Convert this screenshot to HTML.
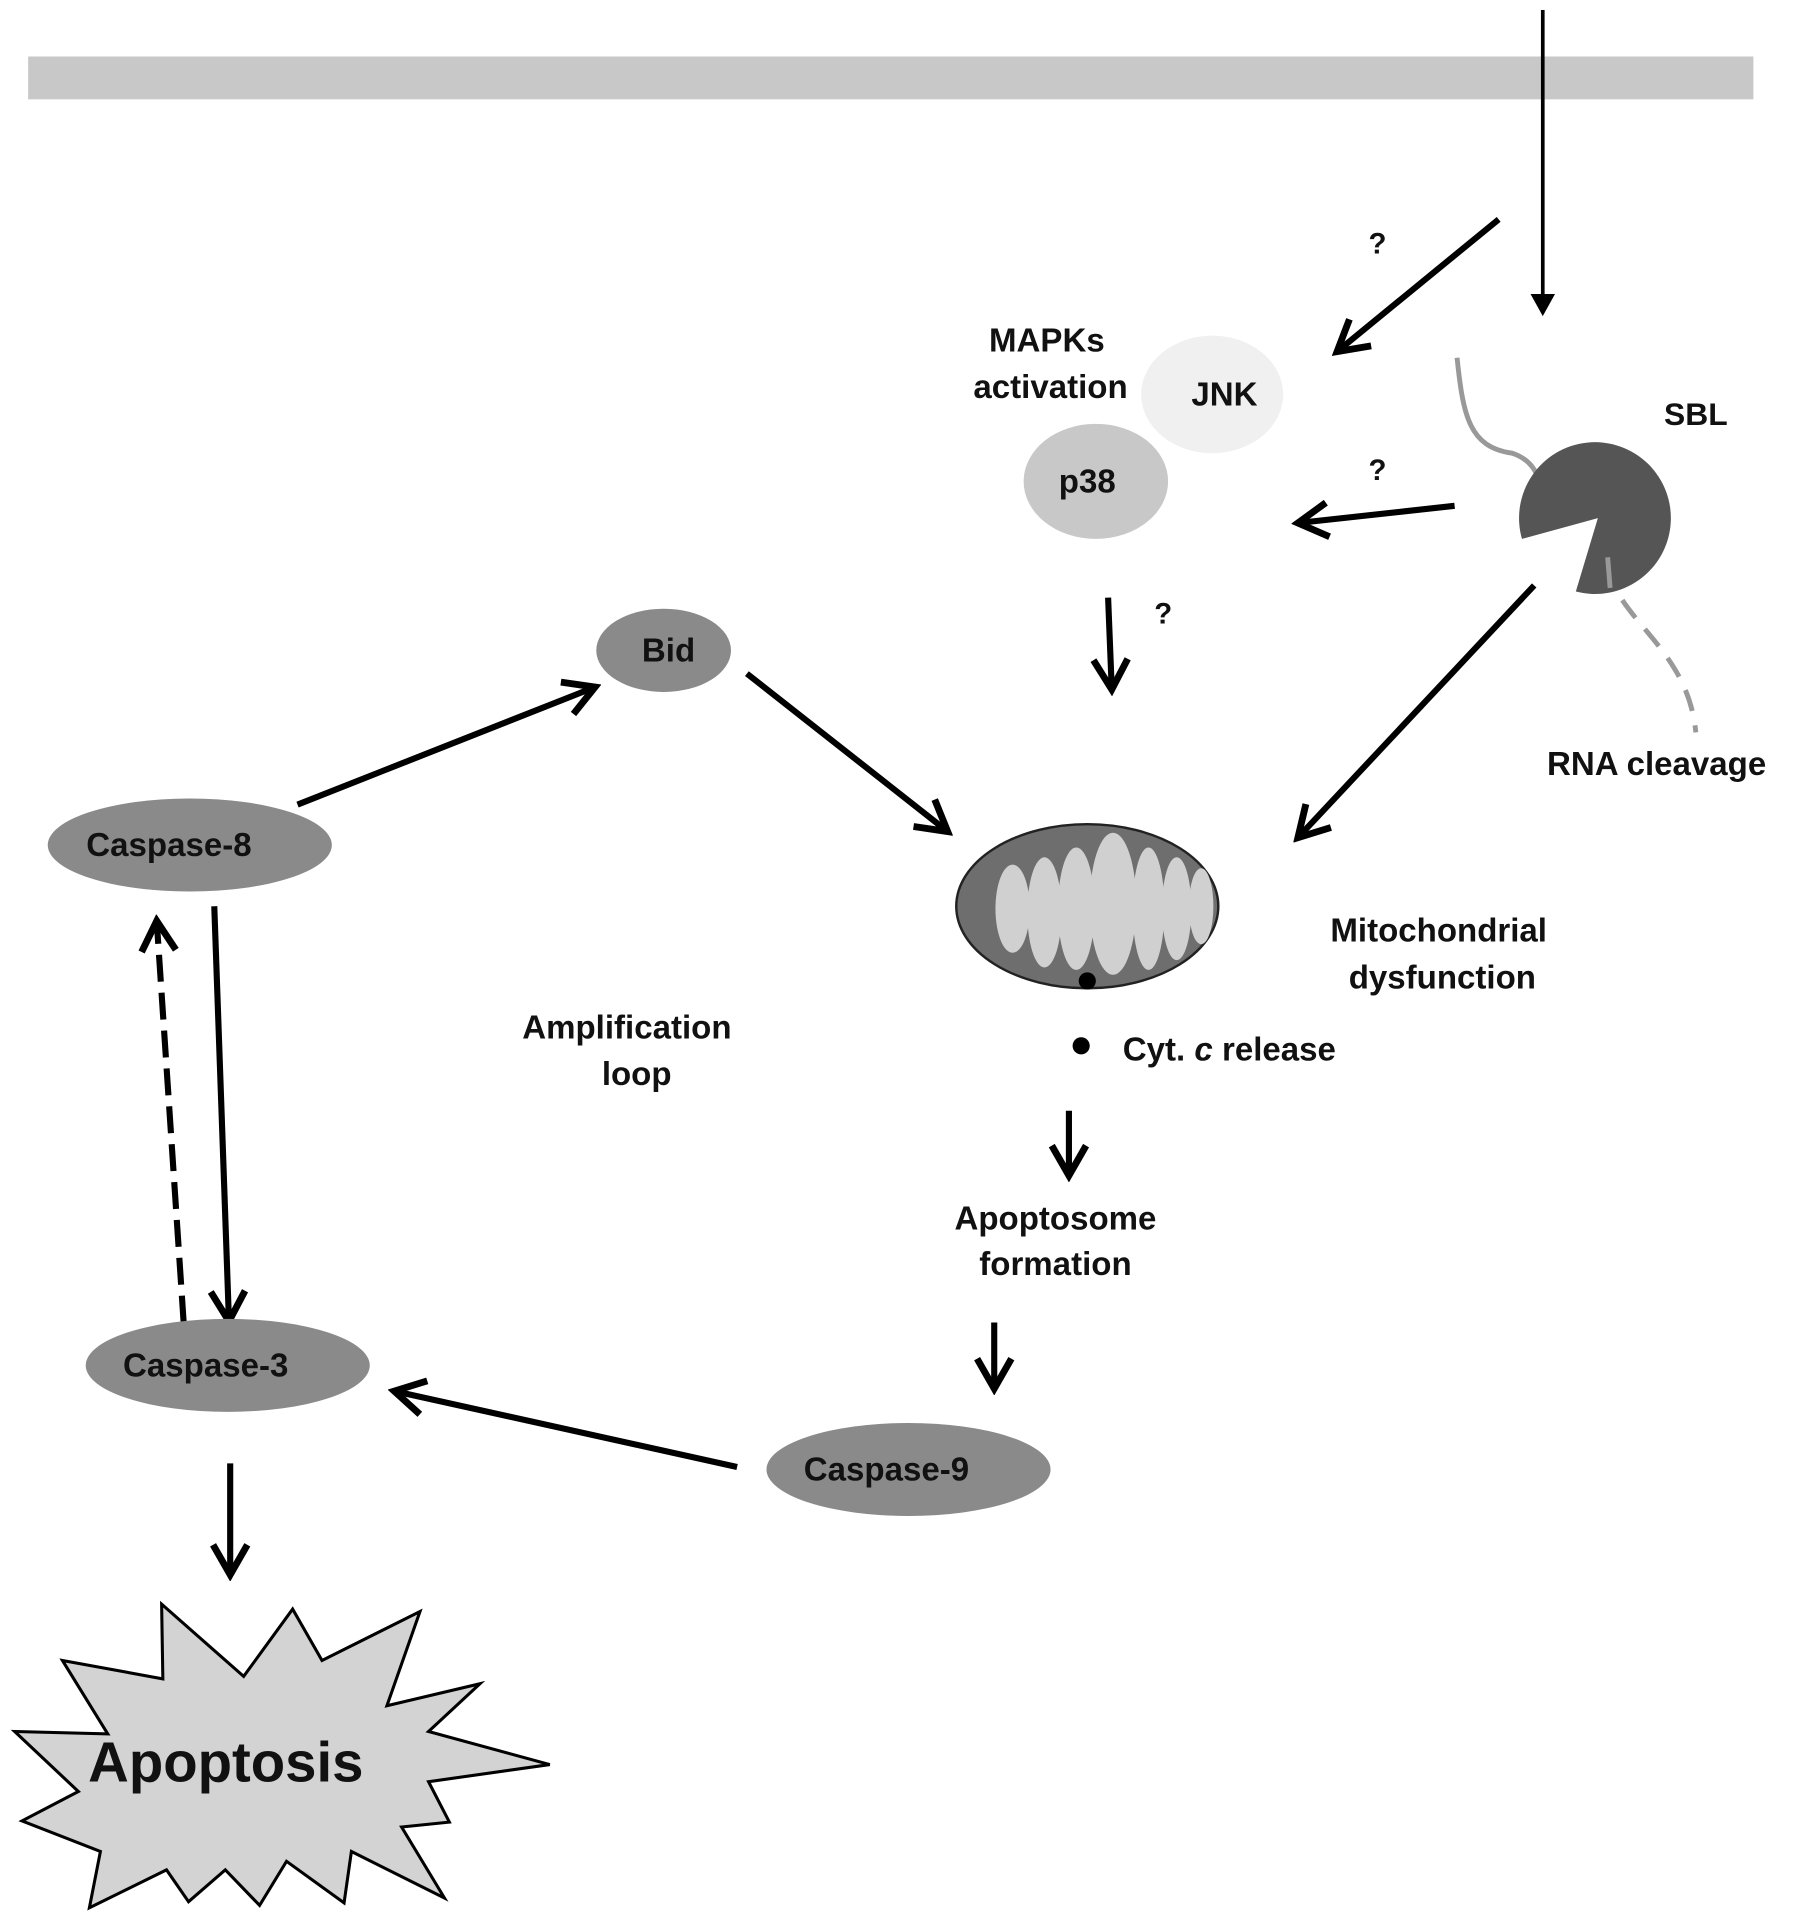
<!DOCTYPE html>
<html><head><meta charset="utf-8"><style>
html,body{margin:0;padding:0;background:#fff}
svg{display:block}
text{font-family:"Liberation Sans",Arial,sans-serif;font-weight:bold;fill:#111}
</style></head><body>
<svg width="1795" height="1919" viewBox="0 0 1466 1567" xmlns="http://www.w3.org/2000/svg">
<defs>
<marker id="ah" viewBox="0 0 20 20" refX="17" refY="10" markerWidth="7" markerHeight="7" orient="auto" markerUnits="strokeWidth">
<polyline points="3,2 17,10 3,18" fill="none" stroke="#000" stroke-width="3.2" stroke-linejoin="miter"/>
</marker>
</defs>
<rect x="23" y="46" width="1409" height="35" fill="#c8c8c8"/>
<g stroke="#000" stroke-width="5" fill="none" marker-end="url(#ah)">
<line x1="1224" y1="179" x2="1092" y2="287"/>
<line x1="1188" y1="413" x2="1060" y2="427"/>
<line x1="905" y1="488" x2="908" y2="563"/>
<line x1="1253" y1="478" x2="1060" y2="684"/>
<line x1="243" y1="657" x2="486" y2="561"/>
<line x1="610" y1="550" x2="774" y2="679"/>
<line x1="175" y1="740" x2="187" y2="1079"/>
<line x1="873" y1="907" x2="873" y2="960"/>
<line x1="812" y1="1080" x2="812" y2="1134"/>
<line x1="602" y1="1198" x2="322" y2="1136"/>
<line x1="188" y1="1195" x2="188" y2="1286"/>
<line x1="150" y1="1080" x2="128" y2="752" stroke-dasharray="22,9"/>
</g>
<line x1="1260" y1="8" x2="1260" y2="250" stroke="#000" stroke-width="3"/>
<path d="M1250,240 L1260,258 L1270,240 Z" fill="#000"/>
<text x="1125" y="207" font-size="24" text-anchor="middle">?</text>
<text x="1125" y="392" font-size="24" text-anchor="middle">?</text>
<text x="950" y="509" font-size="24" text-anchor="middle">?</text>
<!-- SBL -->
<path d="M1190,292 C1195,340 1200,365 1235,370 C1250,375 1255,385 1258,395" stroke="#999" stroke-width="4" fill="none"/>
<path d="M1305,423 L1243,440 A62,62 0 1 1 1287,483 Z" fill="#555"/>
<line x1="1313" y1="455" x2="1315" y2="480" stroke="#999" stroke-width="4"/>
<path d="M1325,490 C1345,520 1380,545 1385,598" stroke="#999" stroke-width="4" fill="none" stroke-dasharray="18,12"/>
<text x="1385" y="347" font-size="26" text-anchor="middle">SBL</text>
<text x="1353" y="633" font-size="27" text-anchor="middle">RNA cleavage</text>
<!-- MAPK -->
<ellipse cx="990" cy="322" rx="58" ry="48" fill="#f0f0f0"/>
<ellipse cx="895" cy="393" rx="59" ry="47" fill="#c8c8c8"/>
<text x="1000" y="331" font-size="27" text-anchor="middle">JNK</text>
<text x="888" y="402" font-size="27" text-anchor="middle">p38</text>
<text x="855" y="287" font-size="27" text-anchor="middle">MAPKs</text>
<text x="858" y="325" font-size="27" text-anchor="middle">activation</text>
<!-- Mito -->
<ellipse cx="888" cy="740" rx="107" ry="67" fill="#6e6e6e" stroke="#222" stroke-width="2"/>
<g fill="#d0d0d0">
<ellipse cx="827" cy="742" rx="14" ry="36"/>
<ellipse cx="853" cy="745" rx="14" ry="45"/>
<ellipse cx="879" cy="742" rx="15" ry="50"/>
<ellipse cx="909" cy="738" rx="19" ry="58"/>
<ellipse cx="938" cy="742" rx="13" ry="50"/>
<ellipse cx="961" cy="742" rx="12" ry="42"/>
<ellipse cx="981" cy="740" rx="10" ry="31"/>
</g>
<circle cx="888" cy="801" r="7" fill="#000"/>
<text x="1175" y="769" font-size="27" text-anchor="middle">Mitochondrial</text>
<text x="1178" y="807" font-size="27" text-anchor="middle">dysfunction</text>
<circle cx="883" cy="854" r="7" fill="#000"/>
<text x="917" y="866" font-size="27">Cyt. <tspan font-style="italic">c</tspan> release</text>
<text x="862" y="1004" font-size="27" text-anchor="middle">Apoptosome</text>
<text x="862" y="1041" font-size="27" text-anchor="middle">formation</text>
<text x="512" y="848" font-size="27" text-anchor="middle">Amplification</text>
<text x="520" y="886" font-size="27" text-anchor="middle">loop</text>
<!-- caspases -->
<ellipse cx="542" cy="531" rx="55" ry="34" fill="#8a8a8a"/>
<text x="546" y="540" font-size="27" text-anchor="middle">Bid</text>
<ellipse cx="155" cy="690" rx="116" ry="38" fill="#8a8a8a"/>
<text x="138" y="699" font-size="27" text-anchor="middle">Caspase-8</text>
<ellipse cx="186" cy="1115" rx="116" ry="38" fill="#8a8a8a"/>
<text x="168" y="1124" font-size="27" text-anchor="middle">Caspase-3</text>
<ellipse cx="742" cy="1200" rx="116" ry="38" fill="#8a8a8a"/>
<text x="724" y="1209" font-size="27" text-anchor="middle">Caspase-9</text>
<!-- starburst -->
<polygon points="132,1310 199,1369 239,1314 263,1356 343,1316 316,1393 392,1375 350,1414 449,1441 350,1455 367,1488 328,1492 363,1550 287,1512 281,1554 234,1520 212,1556 184,1527 154,1553 136,1527 73,1558 82,1512 18,1487 64,1463 12,1414 88,1416 51,1356 133,1371" fill="#d3d3d3" stroke="#000" stroke-width="2.5" stroke-linejoin="miter"/>
<text x="72" y="1455" font-size="46">Apoptosis</text>
</svg>
</body></html>
